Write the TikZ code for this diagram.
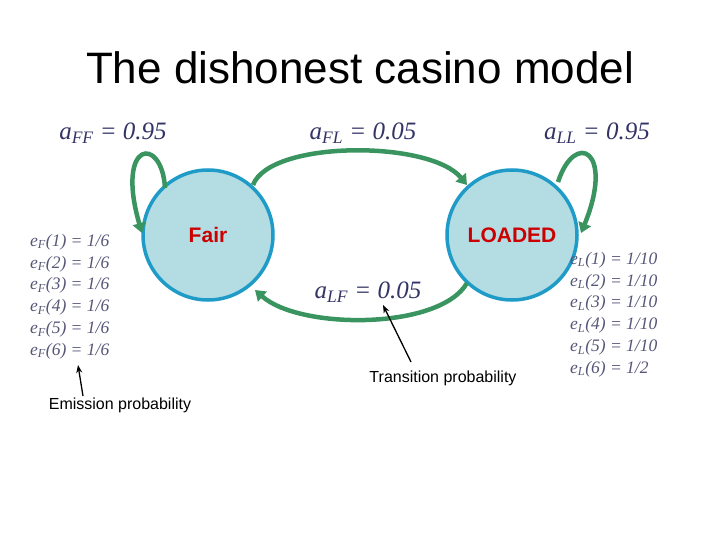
\documentclass[tikz,border=0pt]{standalone}
\usepackage{fontspec}
\setmainfont{Liberation Serif}
\setsansfont{Liberation Sans}
\usetikzlibrary{arrows.meta}
\definecolor{gr}{HTML}{3A9460}
\definecolor{navy}{HTML}{333366}
\definecolor{fill}{HTML}{B4DDE3}
\definecolor{edge}{HTML}{1F9BC8}
\definecolor{grey}{HTML}{555577}
\begin{document}
\begin{tikzpicture}[x=1pt,y=-1pt,
 st/.style={circle,draw=edge,fill=fill,line width=3.5pt,minimum size=130pt,text=red!80!black,font=\sffamily\bfseries\fontsize{21}{21}\selectfont,inner sep=0},
 tr/.style={draw=gr,line width=4.5pt,-{Triangle[length=10pt,width=13pt]}},
 lab/.style={text=navy,font=\itshape\fontsize{25}{25}\selectfont},
 em/.style={text=grey,font=\itshape\fontsize{17.5}{21.8}\selectfont,align=left,anchor=north west,inner sep=0},
 note/.style={font=\sffamily\fontsize{16}{16}\selectfont},
 pt/.style={-{Stealth[length=8pt]},line width=1.3pt}]
\useasboundingbox (0,0) rectangle (720,540);
\node (title) at (360,68) {\sffamily\fontsize{44}{44}\selectfont The dishonest casino model};
\node[st] (F) at (208,235) {\raisebox{0pt}{\makebox[0pt]{Fair}}};
\node[st] (L) at (512,235) {LOADED};
\coordinate (fs) at (165,188); \coordinate (fe) at (142,233);
\coordinate (ls) at (558,182); \coordinate (le) at (581,233);
\draw[tr] (fs) .. controls (162,135) and (115,140) .. (fe);
\draw[tr] (ls) .. controls (575,130) and (615,150) .. (le);
\coordinate (a1) at (253,185); \coordinate (a2) at (467,185);
\draw[tr] (a1) .. controls (270,140) and (430,140) .. (a2);
\coordinate (b1) at (467,283); \coordinate (b2) at (255,290);
\draw[tr] (b1) .. controls (440,330) and (300,330) .. (b2);
\node[lab] (aff) at (113,133) {a\textsubscript{FF} = 0.95};
\node[lab] (afl) at (363,133) {a\textsubscript{FL} = 0.05};
\node[lab] (all) at (597,133) {a\textsubscript{LL} = 0.95};
\node[lab] (alf) at (368,292) {a\textsubscript{LF} = 0.05};
\node[em] (eF) at (30,234) {e\textsubscript{F}(1) = 1/6\\e\textsubscript{F}(2) = 1/6\\e\textsubscript{F}(3) = 1/6\\e\textsubscript{F}(4) = 1/6\\e\textsubscript{F}(5) = 1/6\\e\textsubscript{F}(6) = 1/6};
\node[em] (eL) at (570,252) {e\textsubscript{L}(1) = 1/10\\e\textsubscript{L}(2) = 1/10\\e\textsubscript{L}(3) = 1/10\\e\textsubscript{L}(4) = 1/10\\e\textsubscript{L}(5) = 1/10\\e\textsubscript{L}(6) = 1/2};
\node[note] (tp) at (443,378) {Transition probability};
\node[note] (ep) at (120,405) {Emission probability};
\coordinate (tpe) at (383,305); \coordinate (epe) at (78,365);
\draw[pt] (411,362) -- (tpe);
\draw[pt] (83,396) -- (epe);
\end{tikzpicture}
\end{document}
